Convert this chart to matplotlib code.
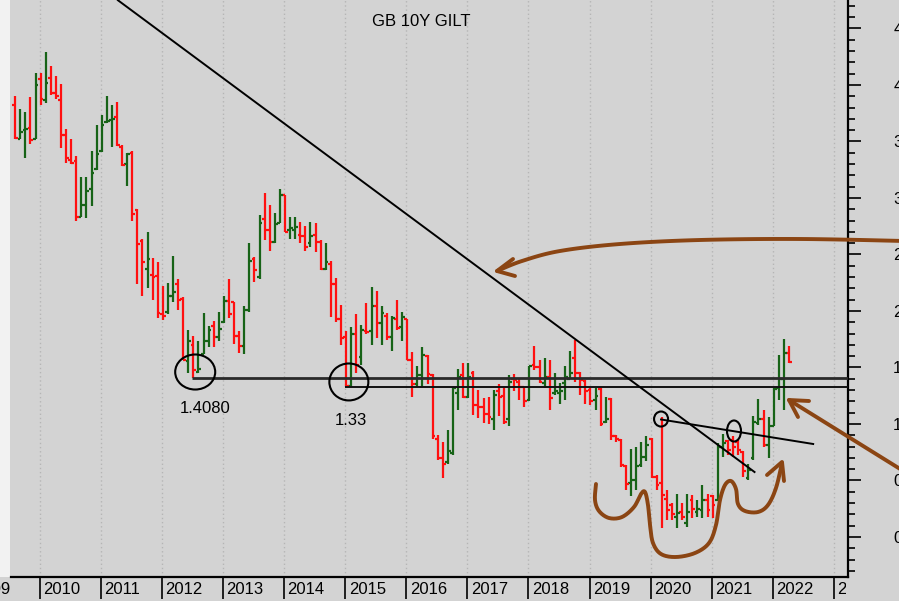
import numpy as np
import matplotlib
matplotlib.use("Agg")
import matplotlib.pyplot as plt
import matplotlib.transforms as mtransforms
from matplotlib.patches import Ellipse, Rectangle
from matplotlib.ticker import MultipleLocator

plt.rcParams['font.family'] = ['Liberation Sans', 'DejaVu Sans']

# ---------------- data: monthly OHLC, GB 10Y gilt yield, from Aug 2009 ----------------
first_year, first_month = 2009, 8
opens = [3.82, 3.52, 3.60, 3.62, 3.52, 4.05, 3.87, 4.06, 3.93, 3.87, 3.56, 3.34,
         3.33, 2.83, 2.94, 3.08, 3.26, 3.42, 3.67, 3.69, 3.72, 3.45, 3.30, 3.40,
         2.89, 2.62, 2.37, 2.32, 2.31, 1.97, 1.99, 2.13, 2.24, 2.11, 1.56, 1.70,
         1.46, 1.62, 1.73, 1.87, 1.77, 1.90, 2.09, 2.08, 1.78, 1.69, 2.01, 2.46,
         2.30, 2.81, 2.72, 2.61, 2.78, 3.03, 2.72, 2.72, 2.67, 2.66, 2.60, 2.67,
         2.61, 2.37, 2.42, 2.24, 1.93, 1.77, 1.34, 1.80, 1.59, 1.82, 1.82, 2.04,
         1.89, 1.96, 1.77, 1.93, 1.86, 1.93, 1.57, 1.35, 1.43, 1.60, 1.43, 0.87,
         0.70, 0.66, 0.74, 1.27, 1.43, 1.24, 1.45, 1.17, 1.15, 1.09, 1.04, 1.29,
         1.25, 1.04, 1.40, 1.37, 1.33, 1.21, 1.52, 1.50, 1.36, 1.42, 1.27, 1.27,
         1.36, 1.40, 1.58, 1.45, 1.38, 1.30, 1.21, 1.31, 1.02, 1.22, 0.89, 0.86,
         0.63, 0.48, 0.50, 0.64, 0.71, 0.87, 0.53, 0.48, 0.34, 0.28, 0.18, 0.22,
         0.12, 0.33, 0.22, 0.24, 0.33, 0.36, 0.33, 0.80, 0.85, 0.86, 0.84, 0.75,
         0.52, 0.70, 1.01, 1.04, 0.81, 0.98, 1.32, 1.40, 1.63]
highs = [3.90, 3.79, 3.76, 3.89, 4.11, 4.11, 4.29, 4.17, 4.08, 4.01, 3.61, 3.52,
         3.37, 3.19, 3.19, 3.42, 3.65, 3.73, 3.90, 3.82, 3.85, 3.47, 3.40, 3.42,
         2.90, 2.64, 2.70, 2.47, 2.43, 2.22, 2.25, 2.49, 2.28, 2.12, 1.83, 1.78,
         1.73, 1.98, 1.87, 1.91, 1.99, 2.13, 2.28, 2.08, 1.82, 2.04, 2.60, 2.48,
         2.85, 3.04, 2.94, 2.87, 3.08, 3.03, 2.83, 2.83, 2.79, 2.75, 2.79, 2.78,
         2.63, 2.60, 2.44, 2.29, 2.05, 1.82, 1.86, 1.97, 1.88, 2.07, 2.21, 2.18,
         2.04, 1.98, 1.96, 2.10, 1.99, 1.93, 1.64, 1.51, 1.68, 1.61, 1.44, 0.90,
         0.84, 0.95, 1.33, 1.49, 1.54, 1.54, 1.47, 1.30, 1.23, 1.24, 1.30, 1.35,
         1.32, 1.43, 1.44, 1.40, 1.33, 1.51, 1.69, 1.57, 1.58, 1.57, 1.45, 1.36,
         1.51, 1.65, 1.74, 1.46, 1.39, 1.32, 1.32, 1.32, 1.24, 1.23, 0.90, 0.87,
         0.64, 0.78, 0.80, 0.84, 0.89, 0.88, 0.55, 1.06, 0.42, 0.30, 0.38, 0.30,
         0.38, 0.37, 0.33, 0.46, 0.38, 0.37, 0.83, 0.91, 0.86, 0.89, 0.86, 0.76,
         0.65, 1.07, 1.22, 1.12, 1.06, 1.32, 1.61, 1.75, 1.69]
lows = [3.52, 3.52, 3.35, 3.48, 3.52, 3.82, 3.84, 3.91, 3.88, 3.44, 3.31, 3.30,
        2.80, 2.83, 2.82, 2.93, 3.25, 3.41, 3.66, 3.45, 3.46, 3.28, 3.11, 2.80,
        2.24, 2.13, 2.20, 2.10, 1.94, 1.92, 1.97, 2.08, 2.01, 1.57, 1.45, 1.41,
        1.45, 1.62, 1.68, 1.68, 1.73, 1.89, 1.94, 1.71, 1.63, 1.62, 1.99, 2.26,
        2.28, 2.63, 2.53, 2.60, 2.78, 2.70, 2.64, 2.64, 2.60, 2.53, 2.57, 2.52,
        2.36, 2.36, 1.95, 1.90, 1.70, 1.33, 1.33, 1.45, 1.52, 1.80, 1.70, 1.76,
        1.70, 1.74, 1.65, 1.83, 1.73, 1.57, 1.24, 1.33, 1.33, 1.35, 0.87, 0.68,
        0.52, 0.65, 0.73, 1.12, 1.23, 1.23, 1.08, 1.05, 1.01, 1.00, 0.95, 1.07,
        1.00, 0.98, 1.29, 1.21, 1.15, 1.20, 1.48, 1.36, 1.32, 1.12, 1.26, 1.18,
        1.21, 1.40, 1.37, 1.26, 1.18, 1.17, 1.12, 0.98, 1.01, 0.86, 0.84, 0.62,
        0.42, 0.36, 0.42, 0.62, 0.67, 0.52, 0.42, 0.08, 0.15, 0.15, 0.08, 0.15,
        0.09, 0.17, 0.18, 0.17, 0.18, 0.17, 0.33, 0.71, 0.73, 0.71, 0.73, 0.53,
        0.50, 0.68, 0.99, 0.80, 0.70, 0.98, 1.21, 1.12, 1.54]
closes = [3.53, 3.58, 3.61, 3.51, 4.00, 3.88, 4.02, 3.93, 3.90, 3.56, 3.35, 3.31,
          2.83, 2.94, 3.06, 3.22, 3.39, 3.65, 3.68, 3.70, 3.47, 3.29, 3.39, 2.86,
          2.59, 2.43, 2.46, 2.30, 1.98, 1.96, 2.13, 2.17, 2.10, 1.57, 1.73, 1.48,
          1.49, 1.73, 1.83, 1.77, 1.84, 2.09, 1.97, 1.78, 1.69, 2.01, 2.44, 2.36,
          2.78, 2.72, 2.61, 2.77, 3.03, 2.70, 2.73, 2.74, 2.66, 2.57, 2.66, 2.61,
          2.37, 2.43, 2.24, 1.93, 1.76, 1.34, 1.80, 1.52, 1.83, 1.81, 2.04, 1.89,
          1.98, 1.77, 1.94, 1.85, 1.95, 1.57, 1.35, 1.43, 1.61, 1.44, 0.89, 0.70,
          0.65, 0.76, 1.32, 1.42, 1.24, 1.42, 1.17, 1.15, 1.09, 1.06, 1.26, 1.24,
          1.02, 1.37, 1.39, 1.33, 1.20, 1.51, 1.50, 1.37, 1.42, 1.23, 1.29, 1.29,
          1.42, 1.45, 1.45, 1.39, 1.29, 1.20, 1.25, 1.00, 1.04, 0.89, 0.87, 0.64,
          0.47, 0.50, 0.63, 0.71, 0.81, 0.53, 0.46, 0.37, 0.24, 0.20, 0.21, 0.18,
          0.22, 0.25, 0.25, 0.33, 0.24, 0.28, 0.80, 0.83, 0.77, 0.80, 0.77, 0.58,
          0.59, 1.02, 1.04, 0.81, 0.98, 1.31, 1.40, 1.63, 1.55]

years = list(range(2009, 2024))
year_labels = [str(y) for y in years]
ytick_values = [0.0, 0.5, 1.0, 1.5, 2.0, 2.5, 3.0, 3.5, 4.0, 4.5]
ytick_labels = ["0.0", "0.5", "1.0", "1.5", "2.0", "2.5", "3.0", "3.5", "4.0", "4.5"]
title = "GB 10Y GILT"

# support levels (value, start year) and their labels
support_values = [1.408, 1.33]
support_starts = [2012.50, 2015.00]
support_texts = ["1.4080", "1.33"]
# long down trend line and short 2020-21 trend line (year, yield)
trend_long = [(2011.28, 4.75), (2021.70, 0.575)]
trend_short = [(2020.17, 1.04), (2022.66, 0.823)]

# ---------------- figure ----------------
W, H = 899, 601
BG = '#d3d3d3'
XLIM = (2009.53, 2023.23)
YLIM = (-0.354, 4.752)
fig = plt.figure(figsize=(W / 100, H / 100), dpi=100, facecolor=BG)
# light strip at the far left of the price panel
fig.add_artist(Rectangle((0, 24 / H), 10 / W, 1, transform=fig.transFigure,
                         facecolor='#f2f2f2', edgecolor='none', zorder=-5))
ax = fig.add_axes([11 / W, 24 / H, 837 / W, 577 / H])
ax.set_facecolor(BG)

n = len(opens)
xs = np.array([first_year + (first_month - 1 + i) / 12 for i in range(n)]) + 0.015
o = np.array(opens); h = np.array(highs); l = np.array(lows); c = np.array(closes)
colors = np.where(c >= o, '#176317', '#ff1010')
tick_w = 0.045

# year grid lines
for y in years:
    ax.axvline(y, color='#b5b5b5', lw=1.0, ls=(0, (1, 2)), zorder=0)

ax.vlines(xs, l, h, colors=colors, lw=1.6, zorder=3)
ax.hlines(o, xs - tick_w, xs, colors=colors, lw=1.6, zorder=3)
ax.hlines(c, xs, xs + tick_w, colors=colors, lw=1.6, zorder=3)

# support lines
ax.hlines(support_values[0], support_starts[0], XLIM[1], color='#2a2a2a', lw=2.0, zorder=4)
ax.hlines(support_values[1], support_starts[1], XLIM[1], color='#111111', lw=1.4, zorder=4)
ax.text(2012.71, 1.14, support_texts[0], fontsize=12, ha='center', va='center')
ax.text(2015.10, 1.035, support_texts[1], fontsize=12, ha='center', va='center')

# circles
for (cx, cy, w, hh) in [(2012.545, 1.46, 0.655, 0.31), (2015.06, 1.372, 0.638, 0.327),
                        (2020.17, 1.044, 0.229, 0.133), (2021.364, 0.938, 0.229, 0.186)]:
    ax.add_patch(Ellipse((cx, cy), w, hh, fill=False, ec='black', lw=1.5, zorder=5))

# trend lines
ax.plot([p[0] for p in trend_long], [p[1] for p in trend_long], color='black', lw=1.4, zorder=5)
ax.plot([p[0] for p in trend_short], [p[1] for p in trend_short], color='black', lw=1.4, zorder=5)

# axes styling
for s in ['top', 'left']:
    ax.spines[s].set_visible(False)
ax.spines['bottom'].set_linewidth(1.6)
ax.spines['right'].set_linewidth(1.6)
ax.yaxis.tick_right()
ax.set_yticks(ytick_values)
ax.set_yticklabels(ytick_labels)
ax.yaxis.set_minor_locator(MultipleLocator(0.1))
ax.tick_params(axis='y', which='major', length=9.5, width=1.2, pad=23, labelsize=12,
               direction='out')
ax.tick_params(axis='y', which='minor', length=5, width=1.2, direction='out')
ax.set_xticks(years)
ax.set_xticklabels([''] * len(years))
ax.tick_params(axis='x', which='major', length=16, width=1.2, direction='out')
ax.set_xlim(*XLIM)
ax.set_ylim(*YLIM)

# year labels, clipped at the right edge of the price panel
label_clip = Rectangle((0, 0), 846 / W, 1, transform=fig.transFigure, visible=False)
fig.add_artist(label_clip)
lab_tr = mtransforms.offset_copy(ax.get_xaxis_transform(), fig=fig, x=3.5, y=-13, units='dots')
for y, s in zip(years, year_labels):
    if y < XLIM[0]:
        continue
    t = ax.text(y, 0, s, transform=lab_tr, ha='left', va='center', fontsize=12)
    t.set_clip_on(True)
    t.set_clip_path(label_clip)
first_tr = mtransforms.offset_copy(ax.transAxes, fig=fig, x=-1, y=-13, units='dots')
ax.text(0, 0, year_labels[0], transform=first_tr, ha='right', va='center', fontsize=12,
        clip_on=False)

ax.text(421 / W, 1 - 22 / H, title, transform=fig.transFigure, ha='center', va='center',
        fontsize=12)

# ---------------- hand-drawn brown annotations (pixel coordinates) ----------------
px = mtransforms.Affine2D().scale(1 / W, -1 / H).translate(0, 1) + fig.transFigure
BROWN = '#8b4513'


def smooth(pts, k=16):
    P = np.asarray(pts, float)
    P = np.vstack([P[0], P, P[-1]])
    out = []
    tt = np.linspace(0, 1, k, endpoint=False)[:, None]
    for i in range(1, len(P) - 2):
        p0, p1, p2, p3 = P[i - 1], P[i], P[i + 1], P[i + 2]
        out.append(0.5 * (2 * p1 + (-p0 + p2) * tt + (2 * p0 - 5 * p1 + 4 * p2 - p3) * tt ** 2
                          + (-p0 + 3 * p1 - 3 * p2 + p3) * tt ** 3))
    out.append(P[-2][None, :])
    return np.vstack(out)


def draw(pts, lw=2.8, sm=True):
    arr = smooth(pts) if sm else np.asarray(pts, float)
    fig.add_artist(plt.Line2D(arr[:, 0], arr[:, 1], transform=px, color=BROWN, lw=lw,
                              solid_capstyle='round', solid_joinstyle='round'))

upper_arrow = [(905, 241), (800, 239), (700, 240), (620, 244), (560, 251), (522, 261), (497, 271)]
draw(upper_arrow)
draw([(513, 259), (497, 271), (515, 276)], sm=False)

draw([(905, 472), (789, 400)], sm=False)
draw([(809, 401), (789, 400), (798, 417)], sm=False)

squiggle = [(596, 484), (595, 500), (599, 511), (609, 518), (622, 517), (634, 507), (641, 494),
            (645, 492), (648, 505), (650, 525), (653, 543), (661, 554), (676, 557), (695, 553),
            (709, 543), (716, 525), (720, 500), (725, 485), (731, 481), (736, 489), (738, 504),
            (745, 511), (758, 512), (768, 505), (776, 488), (782, 463)]
draw(squiggle)
draw([(767, 475), (782, 462), (784, 481)], sm=False)

fig.savefig('out.png', dpi=100, facecolor=BG)
